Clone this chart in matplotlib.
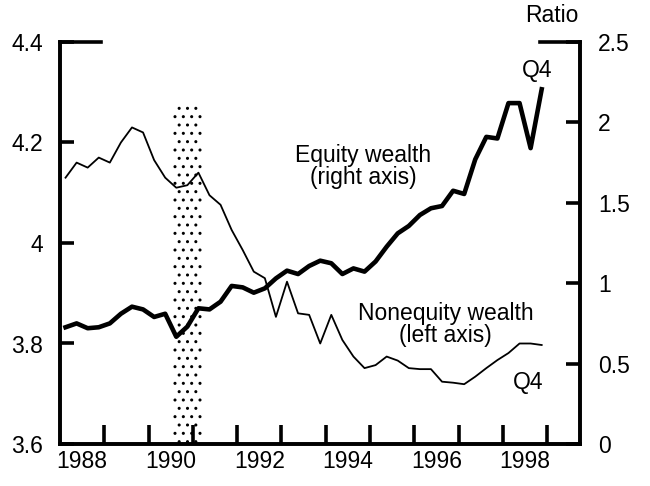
import numpy as np
import matplotlib
matplotlib.use("Agg")
import matplotlib.pyplot as plt

plt.rcParams["font.family"] = ["Liberation Sans", "DejaVu Sans"]
plt.rcParams["hatch.linewidth"] = 1.0

# quarterly observations, 1988Q1 .. 1998Q4
years = list(range(1988, 1999))
nonequity = [
    4.13, 4.16, 4.15, 4.17,
    4.16, 4.20, 4.23, 4.22,
    4.165, 4.13, 4.11, 4.115,
    4.14, 4.095, 4.076, 4.026,
    3.986, 3.943, 3.93, 3.853,
    3.923, 3.86, 3.857, 3.80,
    3.857, 3.807, 3.774, 3.751,
    3.757, 3.774, 3.766, 3.751,
    3.749, 3.749, 3.724, 3.722,
    3.719, 3.734, 3.751, 3.767,
    3.781, 3.80, 3.80, 3.797,
]
equity = [
    0.726, 0.75, 0.72, 0.726,
    0.75, 0.81, 0.854, 0.837,
    0.79, 0.81, 0.667, 0.73,
    0.844, 0.837, 0.885, 0.983,
    0.974, 0.941, 0.968, 1.03,
    1.078, 1.057, 1.107, 1.14,
    1.124, 1.057, 1.092, 1.072,
    1.135, 1.227, 1.31, 1.356,
    1.424, 1.466, 1.48, 1.575,
    1.555, 1.77, 1.91, 1.90,
    2.12, 2.12, 1.84, 2.206,
]
recession = (1990.55, 1991.2)
recession_top = 4.28

left_ticks = [3.6, 3.8, 4.0, 4.2, 4.4]
left_labels = ["3.6", "3.8", "4", "4.2", "4.4"]
right_ticks = [0, 0.5, 1, 1.5, 2, 2.5]
right_labels = ["0", "0.5", "1", "1.5", "2", "2.5"]
year_labels = ["1988", "1990", "1992", "1994", "1996", "1998"]

t = np.array([y + (q - 0.5) / 4 for y in years for q in range(1, 5)])

fs = 16.5
fig = plt.figure(figsize=(6.5, 4.86), dpi=100)
ax = fig.add_axes([60 / 650, 1 - 444 / 486, 520 / 650, 402 / 486])
ax2 = ax.twinx()

ax.set_xlim(1988, 1999.74)
ax.set_ylim(3.6, 4.4)
ax2.set_ylim(0, 2.5)

# recession band
ax.fill_between(recession, 3.6, recession_top, facecolor="white",
                edgecolor="black", hatch="..", linewidth=0, zorder=1)

ax.plot(t, nonequity, color="black", lw=1.3, zorder=3)
ax2.plot(t, equity, color="black", lw=3.3, solid_joinstyle="round")

for a in (ax, ax2):
    a.spines["top"].set_visible(False)
    for s in a.spines.values():
        s.set_linewidth(2.6)

ax.set_yticks(left_ticks)
ax.set_yticklabels(left_labels, fontsize=fs)
ax.tick_params(axis="y", direction="in", length=10, width=2.6, pad=12)
ax2.set_yticks(right_ticks)
ax2.set_yticklabels(right_labels, fontsize=fs)
ax2.tick_params(axis="y", direction="in", length=10, width=2.6, pad=13)

# long tick at the top of each vertical axis
ax.plot([1988, 1988.93], [4.4, 4.4], color="black", lw=2.6, clip_on=False)
ax2.plot([1998.83, 1999.74], [2.5, 2.5], color="black", lw=2.6, clip_on=False)

ax.set_xticks(range(1989, 2000))
ax.set_xticklabels([])
ax.tick_params(axis="x", which="major", direction="in", length=14, width=2.6)
ax.set_xticks([y + 0.5 for y in range(1988, 1999, 2)], minor=True)
ax.set_xticklabels(year_labels, minor=True, fontsize=fs)
ax.tick_params(axis="x", which="minor", length=0, pad=4)

ax.text(1994.84, 4.153, "Equity wealth\n(right axis)", ha="center", va="center",
        fontsize=fs, linespacing=0.95)
ax.text(1996.71, 3.838, "Nonequity wealth\n(left axis)", ha="center", va="center",
        fontsize=fs, linespacing=0.95)
ax.text(1998.56, 3.723, "Q4", ha="center", va="center", fontsize=fs)
ax.text(1998.77, 4.344, "Q4", ha="center", va="center", fontsize=fs)
fig.text(552 / 650, 1 - 15 / 486, "Ratio", ha="center", va="center", fontsize=fs)

fig.savefig("out.png", dpi=100, facecolor="white")
